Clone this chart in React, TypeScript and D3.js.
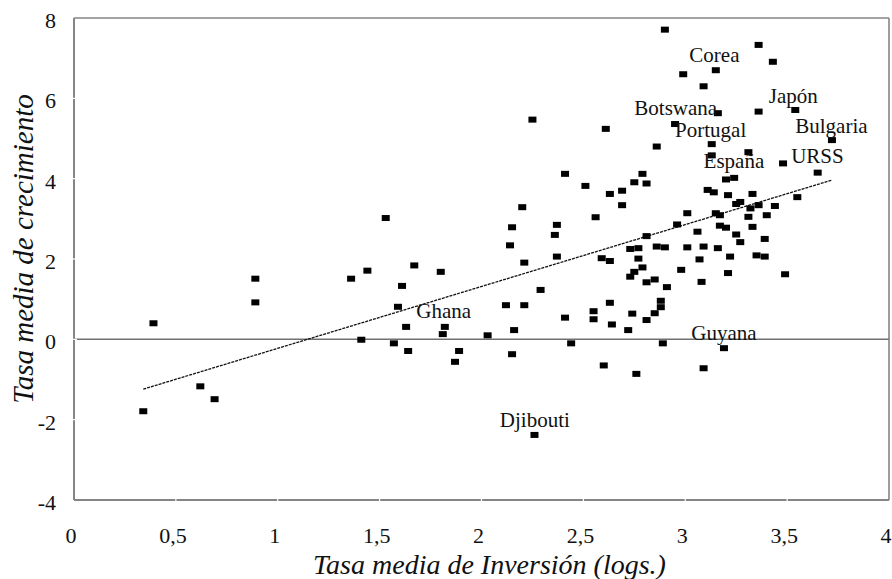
import * as d3 from "d3";
import { useEffect, useRef } from "react";

// Tasa media de inversión (logs.) por país
const investment = [
  0.34, 0.39, 0.62, 0.69, 0.89, 0.89, 1.36, 1.41, 1.44, 1.53,
  1.57, 1.59, 1.61, 1.63, 1.64, 1.67, 1.8, 1.81, 1.82, 1.87,
  1.89, 2.03, 2.12, 2.14, 2.15, 2.15, 2.16, 2.2, 2.21, 2.21,
  2.25, 2.26, 2.29, 2.36, 2.37, 2.37, 2.41, 2.41, 2.44, 2.51,
  2.55, 2.55, 2.56, 2.59, 2.6, 2.61, 2.63, 2.63, 2.63, 2.64,
  2.69, 2.69, 2.72, 2.73, 2.73, 2.74, 2.75, 2.75, 2.76, 2.77,
  2.77, 2.79, 2.79, 2.81, 2.81, 2.81, 2.81, 2.85, 2.85, 2.86,
  2.86, 2.88, 2.88, 2.89, 2.9, 2.9, 2.91, 2.95, 2.96, 2.98,
  2.99, 3.01, 3.01, 3.06, 3.07, 3.08, 3.09, 3.09, 3.09, 3.11,
  3.13, 3.13, 3.14, 3.15, 3.15, 3.16, 3.16, 3.17, 3.17, 3.19,
  3.2, 3.2, 3.21, 3.21, 3.22, 3.24, 3.25, 3.25, 3.27, 3.27,
  3.31, 3.31, 3.32, 3.33, 3.33, 3.35, 3.36, 3.36, 3.36, 3.39,
  3.39, 3.4, 3.43, 3.44, 3.48, 3.49, 3.54, 3.55, 3.65, 3.72,
];

// Tasa media de crecimiento por país (mismo orden)
const growth = [
  -1.79, 0.4, -1.17, -1.49, 1.51, 0.92, 1.51, -0.01, 1.71, 3.02,
  -0.1, 0.81, 1.33, 0.31, -0.29, 1.84, 1.68, 0.13, 0.31, -0.56,
  -0.29, 0.1, 0.85, 2.34, 2.79, -0.37, 0.23, 3.29, 0.85, 1.91,
  5.47, -2.38, 1.23, 2.6, 2.85, 2.06, 4.12, 0.54, -0.1, 3.82,
  0.7, 0.5, 3.04, 2.02, -0.65, 5.24, 3.62, 1.95, 0.91, 0.37,
  3.7, 3.34, 0.23, 2.25, 1.56, 0.64, 3.91, 1.68, -0.86, 2.27,
  2.01, 4.12, 1.79, 3.88, 2.57, 1.42, 0.48, 1.49, 0.65, 4.8,
  2.31, 0.8, 0.96, -0.1, 7.71, 2.29, 1.3, 5.36, 2.86, 1.73,
  6.6, 3.14, 2.29, 2.68, 1.99, 1.43, 6.3, 2.31, -0.72, 3.72,
  4.86, 4.58, 3.66, 6.7, 3.14, 5.63, 2.27, 3.09, 2.83, -0.22,
  3.98, 2.78, 3.59, 1.65, 2.06, 4.02, 3.37, 2.61, 3.42, 2.42,
  4.66, 3.05, 3.26, 3.62, 2.8, 2.09, 7.33, 5.67, 3.34, 2.5,
  2.06, 3.09, 6.91, 3.32, 4.38, 1.62, 5.71, 3.54, 4.15, 4.96,
];

// Países señalados (posición del texto en unidades de los ejes)
const labelNames = ["Corea", "Japón", "Botswana", "Portugal", "Bulgaria", "URSS", "España", "Ghana", "Guyana", "Djibouti"];
const labelX = [3.02, 3.41, 2.75, 2.95, 3.54, 3.52, 3.09, 1.68, 3.03, 2.09];
const labelY = [6.9, 5.88, 5.58, 5.03, 5.14, 4.39, 4.26, 0.53, -0.02, -2.18];

const xTicks = [0, 0.5, 1, 1.5, 2, 2.5, 3, 3.5, 4];
const yTicks = [-4, -2, 0, 2, 4, 6, 8];

// recta de regresión
const fitIntercept = -1.764;
const fitSlope = 1.54;

const width = 892;
const height = 579;
const font = "'Liberation Serif', 'Times New Roman', serif";

const App = () => {
  const svgRef = useRef(null);

  useEffect(() => {
    const margin = { top: 18, right: 3, bottom: 79, left: 74 };
    const svg = d3.select(svgRef.current);
    svg.selectAll("*").remove();

    const x = d3.scaleLinear().domain([0, 4]).range([margin.left, width - margin.right]);
    const y = d3.scaleLinear().domain([-4, 8]).range([height - margin.bottom, margin.top]);

    const axisColor = "#858585";
    const x0 = x(0), x1 = x(4), y0 = y(-4), y1 = y(8);

    // marco superior y derecho
    svg.append("line").attr("x1", x0).attr("x2", x1).attr("y1", y1).attr("y2", y1)
      .attr("stroke", axisColor).attr("stroke-width", 1.6);
    svg.append("line").attr("x1", x1).attr("x2", x1).attr("y1", y1).attr("y2", y0)
      .attr("stroke", axisColor).attr("stroke-width", 1.6);

    // línea del cero
    svg.append("line").attr("x1", x0).attr("x2", x1).attr("y1", y(0)).attr("y2", y(0))
      .attr("stroke", "#707070").attr("stroke-width", 1.5);

    // ejes
    svg.append("line").attr("x1", x0).attr("x2", x0).attr("y1", y1).attr("y2", y0)
      .attr("stroke", axisColor).attr("stroke-width", 2);
    svg.append("line").attr("x1", x0).attr("x2", x1).attr("y1", y0).attr("y2", y0)
      .attr("stroke", axisColor).attr("stroke-width", 2);

    // marcas de división (cortes blancos)
    svg.append("g").selectAll("line").data(xTicks.slice(1, -1)).join("line")
      .attr("x1", (d) => x(d)).attr("x2", (d) => x(d))
      .attr("y1", y0 - 3).attr("y2", y0 + 3)
      .attr("stroke", "#fff").attr("stroke-width", 1.2);
    svg.append("g").selectAll("line").data(yTicks.slice(1, -1)).join("line")
      .attr("x1", x0 - 3).attr("x2", x0 + 3)
      .attr("y1", (d) => y(d)).attr("y2", (d) => y(d))
      .attr("stroke", "#fff").attr("stroke-width", 1.2);

    // etiquetas de los ejes
    svg.append("g").selectAll("text").data(xTicks).join("text")
      .attr("x", (d) => x(d) - 3).attr("y", y0 + 43)
      .attr("text-anchor", "middle")
      .attr("font-family", font).attr("font-size", 22).attr("fill", "#111")
      .text((d) => String(d).replace(".", ","));
    svg.append("g").selectAll("text").data(yTicks).join("text")
      .attr("x", x0 - 18).attr("y", (d) => y(d) + 10)
      .attr("text-anchor", "end")
      .attr("font-family", font).attr("font-size", 22).attr("fill", "#111")
      .text((d) => String(d));

    // títulos
    svg.append("text")
      .attr("x", (x0 + x1) / 2 + 8).attr("y", 574)
      .attr("text-anchor", "middle")
      .attr("font-family", font).attr("font-style", "italic").attr("font-size", 28)
      .attr("fill", "#111")
      .text("Tasa media de Inversión (logs.)");
    svg.append("text")
      .attr("transform", `translate(33,${(y0 + y1) / 2 - 10}) rotate(-90)`)
      .attr("text-anchor", "middle")
      .attr("font-family", font).attr("font-style", "italic").attr("font-size", 29)
      .attr("fill", "#111")
      .text("Tasa media de crecimiento");

    // recta de ajuste
    const xExt = d3.extent(investment);
    const line = d3.line().x((d) => x(d)).y((d) => y(fitIntercept + fitSlope * d));
    svg.append("path")
      .attr("d", line(xExt))
      .attr("fill", "none").attr("stroke", "#111")
      .attr("stroke-width", 1.3).attr("stroke-dasharray", "3,1");

    // puntos
    const pts = investment.map((v, i) => ({ x: v, y: growth[i] }));
    svg.append("g").selectAll("rect").data(pts).join("rect")
      .attr("x", (d) => x(d.x) - 4).attr("y", (d) => y(d.y) - 3)
      .attr("width", 8).attr("height", 6)
      .attr("fill", "#000");

    // nombres de países
    svg.append("g").selectAll("text").data(labelNames).join("text")
      .attr("x", (d, i) => x(labelX[i])).attr("y", (d, i) => y(labelY[i]))
      .attr("font-family", font).attr("font-size", 21).attr("fill", "#111")
      .text((d) => d);
  }, []);

  return (
    <svg
      ref={svgRef}
      width={width}
      height={height}
      style={{ position: "absolute", left: 0, top: 0, background: "#fff" }}
    />
  );
};

export default App;
